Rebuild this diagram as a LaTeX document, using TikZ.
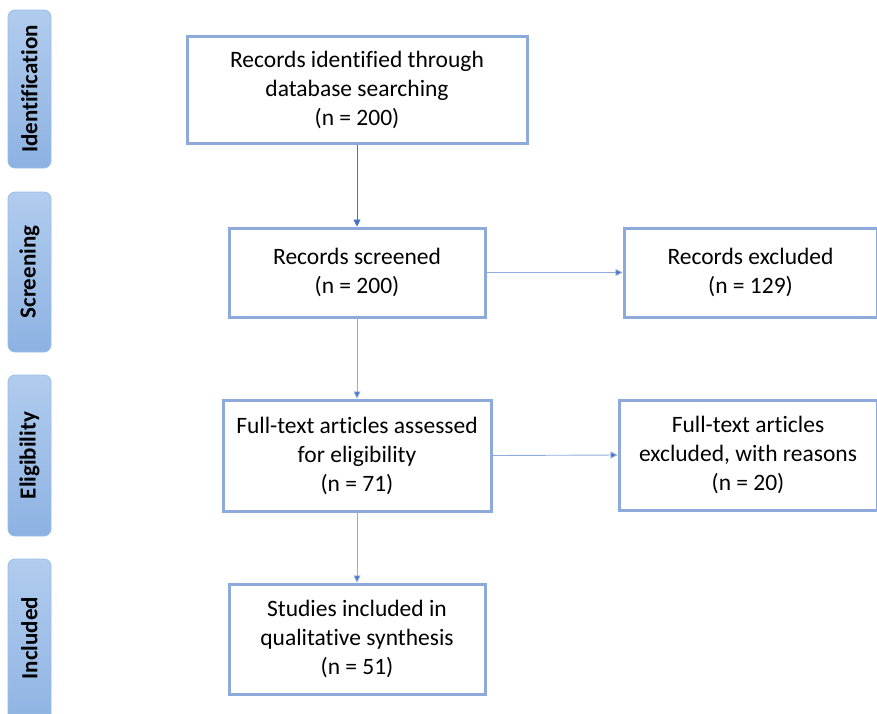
\documentclass[tikz,border=0pt]{standalone}
\usepackage{fontspec}
\setmainfont[Ligatures=NoCommon]{Carlito}
\usetikzlibrary{arrows.meta}
\definecolor{boxline}{HTML}{8EAADB}
\definecolor{arrowc}{HTML}{4472C4}
\definecolor{sidetop}{HTML}{B0CCEE}
\definecolor{sidebot}{HTML}{8DB2E2}
\definecolor{sideline}{HTML}{9DBDE6}
\tikzset{
  box/.style={draw=boxline,line width=3pt,fill=white,align=center,font=\fontsize{23.5}{29}\selectfont,inner sep=0pt},
  side/.style={draw=sideline,line width=0.8pt,rounded corners=7pt,top color=sidetop,bottom color=sidebot},
  sidetext/.style={rotate=90,font=\fontsize{23}{26}\selectfont\bfseries},
  arr/.style={draw=arrowc,line width=0.7pt,-{Triangle[length=7pt,width=7pt]}},
  arrl/.style={draw=arrowc!60,line width=0.9pt,-{Triangle[length=7pt,width=7pt,fill=arrowc]}}
}
\begin{document}
\begin{tikzpicture}[x=1pt,y=-1pt]
\useasboundingbox (0,0) rectangle (877,713);
% side labels
\draw[side] (8,10) rectangle (51,168);
\node[sidetext] (sid) at (29.5,89) {Identification};
\draw[side] (8,192) rectangle (51,352);
\node[sidetext] (ssc) at (29.5,272) {Screening};
\draw[side] (8,375) rectangle (51,536);
\node[sidetext] (sel) at (29.5,455.5) {Eligibility};
\draw[side] (8,559) rectangle (51,730);
\node[sidetext] (sin) at (29.5,638) {Included};
% boxes
\node[box,minimum width=340pt,minimum height=107pt] (b1) at (357,89.5) {Records identified through\\database searching\\(n = 200)};
\node[box,minimum width=256pt,minimum height=89pt] (b2) at (357,272.5) {Records screened\\(n = 200)};
\node[box,minimum width=253pt,minimum height=89pt] (b3) at (750.5,272.5) {Records excluded\\(n = 129)};
\node[box,minimum width=268pt,minimum height=111pt] (b4) at (357,455.5) {Full-text articles assessed\\for eligibility\\(n = 71)};
\node[box,minimum width=258pt,minimum height=110pt] (b5) at (748,455) {Full-text articles\\excluded, with reasons\\(n = 20)};
\node[box,minimum width=256pt,minimum height=110pt] (b6) at (357,639) {Studies included in\\qualitative synthesis\\(n = 51)};
% connectors
\draw[arr] (b1.south) -- (b2.north);
\draw[arrl] (b2.south) -- (b4.north);
\draw[arrl] (b4.south) -- (b6.north);
\draw[arrl] (b2.east) -- (b3.west);
\draw[arrl] (b4.east) -- (b5.west);
\end{tikzpicture}
\end{document}
